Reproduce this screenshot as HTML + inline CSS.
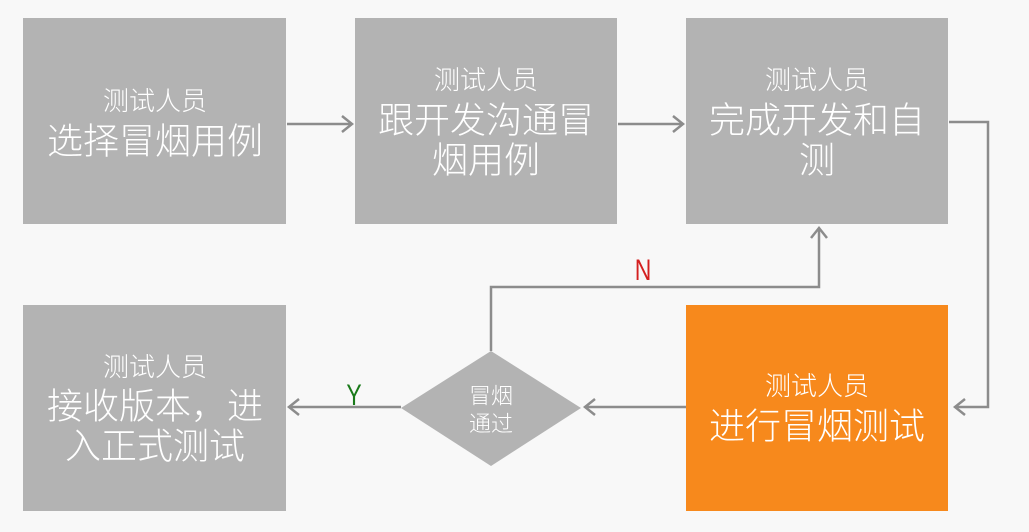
<!DOCTYPE html>
<html><head><meta charset="utf-8"><style>
html,body{margin:0;padding:0;background:#f8f8f8;}
svg{display:block}
text{font-family:"Liberation Sans","Noto Sans CJK SC",sans-serif;fill:#fff;text-anchor:middle;dominant-baseline:central;font-weight:300}
</style></head><body>
<svg width="1029" height="532" viewBox="0 0 1029 532">
<rect width="1029" height="532" fill="#f8f8f8"/>
<g fill="#b3b3b3">
<rect x="23" y="18" width="263" height="206"/>
<rect x="355" y="18" width="262" height="206"/>
<rect x="686" y="18" width="262" height="206"/>
<rect x="23" y="305" width="263" height="206"/>
<polygon points="491,351 581,408 491,466 401,408"/>
</g>
<rect x="686" y="305" width="262" height="206" fill="#f7891c"/>
<g stroke="#8c8c8c" stroke-width="2.5" fill="none">
<line x1="287" y1="124" x2="352" y2="124"/><polyline points="342,116 352,124 342,132"/>
<line x1="618" y1="124" x2="683" y2="124"/><polyline points="673,116 683,124 673,132"/>
<polyline points="949,122 988,122 988,407 955,407"/><polyline points="965,399 955,407 965,415"/>
<line x1="686" y1="407" x2="585" y2="407"/><polyline points="595,399 585,407 595,415"/>
<line x1="401" y1="407" x2="289" y2="407"/><polyline points="299,399 289,407 299,415"/>
<polyline points="491,351 491,287 819,287 819,228"/><polyline points="811,238 819,228 827,238"/>
</g>
<text x="643" y="270" transform="translate(643 270) scale(0.85 1.1) translate(-643 -270)" style="fill:#d42020;font-size:27px;font-weight:400">N</text>
<text x="354" y="395" transform="translate(354 395) scale(0.85 1.1) translate(-354 -395)" style="fill:#1a7a1a;font-size:27px;font-weight:400">Y</text>
<g font-size="26">
<text x="155" y="101">测试人员</text>
<text x="486" y="80">测试人员</text>
<text x="817" y="80">测试人员</text>
<text x="155" y="367">测试人员</text>
<text x="817" y="386">测试人员</text>
</g>
<g font-size="36">
<text x="155" y="141">选择冒烟用例</text>
<text x="486" y="120">跟开发沟通冒</text>
<text x="486" y="160">烟用例</text>
<text x="817" y="120">完成开发和自</text>
<text x="817" y="160">测</text>
<text x="155" y="406">接收版本，进</text>
<text x="155" y="446">入正式测试</text>
<text x="817" y="426">进行冒烟测试</text>
</g>
<g font-size="22">
<text x="491" y="396">冒烟</text>
<text x="491" y="424">通过</text>
</g>
</svg>
</body></html>
